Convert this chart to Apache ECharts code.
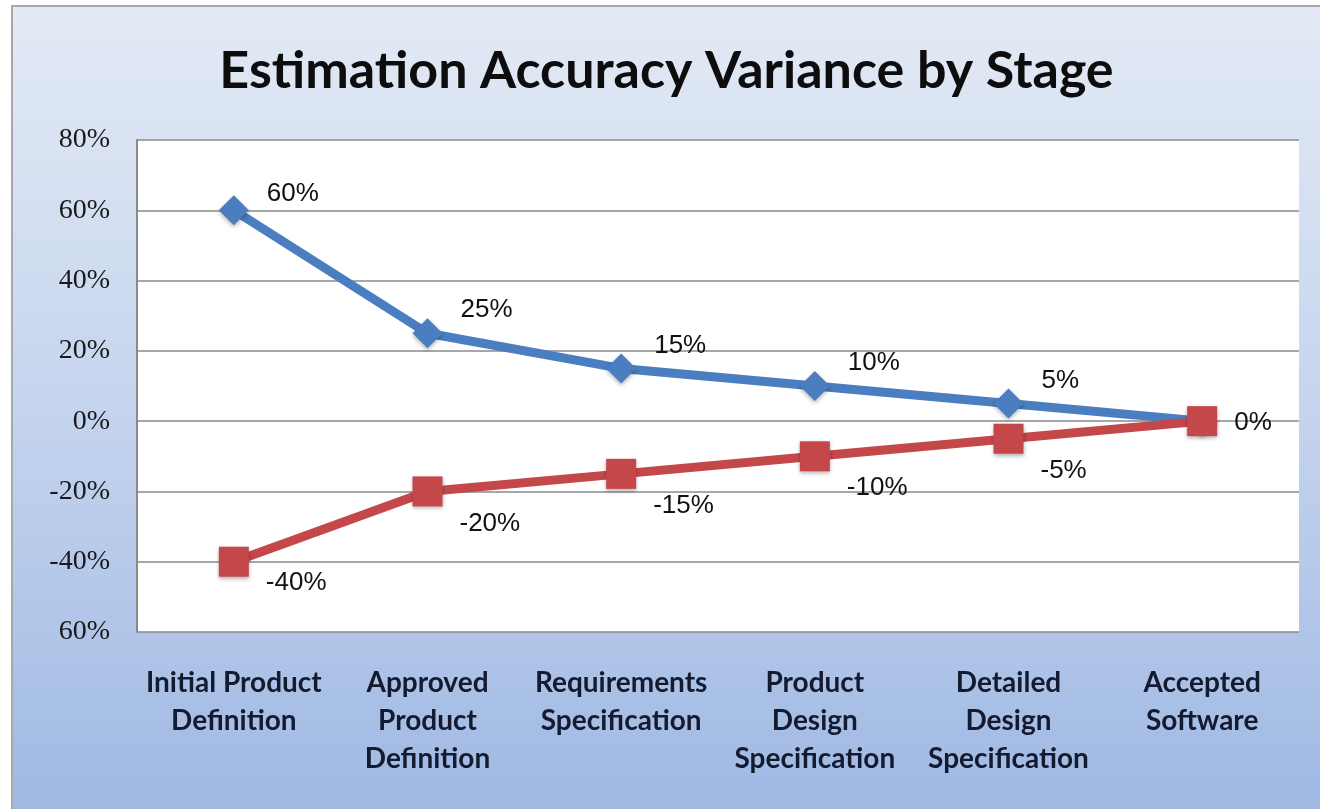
<!DOCTYPE html>
<html>
<head>
<meta charset="utf-8">
<script src="https://cdn.jsdelivr.net/npm/echarts@6/dist/echarts.min.js"></script>
<style>
  html, body { margin: 0; padding: 0; background: #ffffff; width: 1320px; height: 809px; overflow: hidden; }
  #frame { position: absolute; left: 11px; top: 5px; width: 1309px; height: 804px; border-top: 2px solid #a8a8a8; border-left: 2px solid #a8a8a8; box-sizing: border-box; }
  #chart { position: absolute; left: 13px; top: 7px; width: 1307px; height: 802px; }
</style>
</head>
<body>
<div id="frame"></div>
<div id="chart"></div>
<script>
// ---- data ----
const categories = [
  'Initial Product\nDefinition',
  'Approved\nProduct\nDefinition',
  'Requirements\nSpecification',
  'Product\nDesign\nSpecification',
  'Detailed\nDesign\nSpecification',
  'Accepted\nSoftware'
];
const upperValues = [60, 25, 15, 10, 5, 0];
const lowerValues = [-40, -20, -15, -10, -5, 0];
const yTickLabels = ['60%', '-40%', '-20%', '0%', '20%', '40%', '60%', '80%'];
const titleText = 'Estimation Accuracy Variance by Stage';

const Y_MIN = -60, Y_MAX = 80, Y_STEP = 20;

const chart = echarts.init(document.getElementById('chart'));

const labelFont = { fontFamily: 'Liberation Sans', fontSize: 26, color: '#111111' };

const upperData = upperValues.map((v, i) => ({
  value: v,
  label: i === upperValues.length - 1 ? { show: false } : { show: true, offset: [0, i === 0 ? -16 : -23] }
}));
const lowerData = lowerValues.map((v, i) => {
  const last = i === lowerValues.length - 1;
  return {
    value: v,
    label: last ? { show: true, offset: [0, 2] } : (i === 0 ? { show: true, offset: [0, 21] } : { show: true, offset: [0, 32] })
  };
});

chart.setOption({
  backgroundColor: {
    type: 'linear', x: 0, y: 0, x2: 0, y2: 1,
    colorStops: [
      { offset: 0, color: '#e3eaf5' },
      { offset: 0.5, color: '#c5d4ee' },
      { offset: 1, color: '#9fb9e3' }
    ]
  },
  animation: false,
  title: {
    text: titleText,
    left: 'center',
    top: 33,
    textStyle: { fontFamily: 'Lato', fontWeight: 'bold', fontSize: 52, color: '#0d0d0d' }
  },
  grid: {
    left: 124, right: 21, top: 133, bottom: 177,
    show: true, backgroundColor: '#ffffff', borderWidth: 0
  },
  xAxis: {
    type: 'category',
    data: categories,
    boundaryGap: true,
    axisLine: { show: false },
    axisTick: { show: false },
    axisLabel: {
      margin: 32,
      interval: 0,
      fontFamily: 'Lato', fontWeight: 'bold', fontSize: 28, lineHeight: 38,
      color: '#141a30'
    }
  },
  yAxis: {
    type: 'value',
    min: Y_MIN, max: Y_MAX, interval: Y_STEP,
    axisLine: { show: true, lineStyle: { color: '#8a8a8a', width: 2 } },
    axisTick: { show: false },
    splitLine: { show: true, lineStyle: { color: '#8a8a8a', width: 1.5 } },
    axisLabel: {
      margin: 27,
      fontFamily: 'Liberation Serif', fontSize: 28, color: '#1a1a1a',
      formatter: v => yTickLabels[Math.round((v - Y_MIN) / Y_STEP)]
    }
  },
  series: [
    {
      name: 'Upper',
      type: 'line',
      data: upperData,
      symbol: 'diamond',
      symbolSize: 30,
      lineStyle: { color: '#4a7ec0', width: 9 },
      itemStyle: { color: '#4a7ec0', shadowBlur: 4, shadowColor: 'rgba(0,0,0,0.3)', shadowOffsetY: 2 },
      label: { position: 'right', distance: 18, formatter: p => p.value + '%', ...labelFont },
      z: 3
    },
    {
      name: 'Lower',
      type: 'line',
      data: lowerData,
      symbol: 'rect',
      symbolSize: 30,
      lineStyle: { color: '#c4474a', width: 9 },
      itemStyle: { color: '#c4474a', shadowBlur: 4, shadowColor: 'rgba(0,0,0,0.3)', shadowOffsetY: 2 },
      label: { position: 'right', distance: 17, formatter: p => p.value + '%', ...labelFont },
      z: 4
    }
  ]
});
</script>
</body>
</html>
